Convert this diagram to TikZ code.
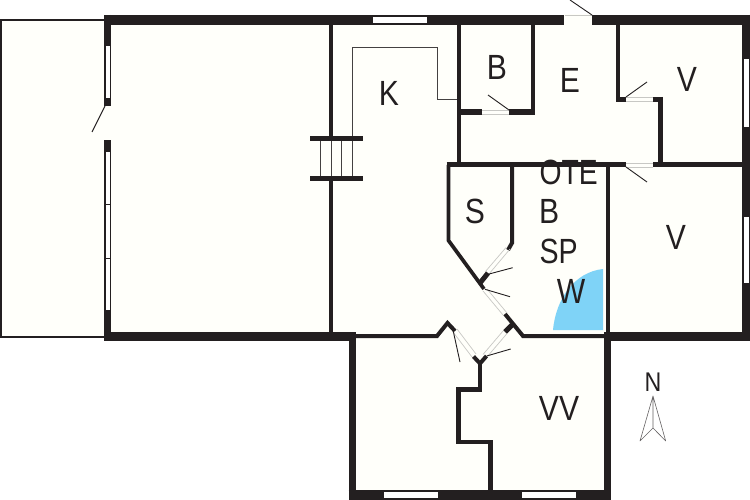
\documentclass[tikz,border=0pt]{standalone}
\usepackage{fontspec}
\setmainfont{Liberation Sans}
\definecolor{wallc}{HTML}{231F20}
\definecolor{floorc}{HTML}{FFFFFA}
\definecolor{wetc}{HTML}{7FD3F7}
\definecolor{doorc}{HTML}{C8C8C4}
\tikzset{
  wall/.style={draw=wallc,line width=#1,line cap=butt,line join=miter},
  wall/.default=4pt,
  swing/.style={draw=wallc,line width=0.9pt},
  jamb/.style={draw=doorc,line width=0.7pt},
  glass/.style={fill=white,draw=none},
  room/.style={inner sep=0pt,text=wallc,font=\fontsize{35}{35}\selectfont,xscale=0.86},
  thinline/.style={draw=wallc!85,line width=0.9pt},
}
\begin{document}
\begin{tikzpicture}[x=1pt,y=-1pt]
\useasboundingbox (0,0) rectangle (750,500);
\fill[white] (0,0) rectangle (750,500);
% floor
\fill[floorc] (1,20) -- (750,20) -- (750,336) -- (607,336) -- (607,495) -- (352,495) -- (352,336) -- (1,336) -- cycle;
% terrace outline
\draw[wallc,line width=2pt] (104,20) -- (1,20) -- (1,336.5) -- (104,336.5);
% wet zone
\fill[wetc] (553,330) .. controls (556,298) and (575,272) .. (603,269) -- (603,330) -- cycle;
% outer walls
\path[wall=10pt] (104,20) -- (750,20);
\path[wall=7pt] (107.5,15) -- (107.5,106);
\path[wall=7pt] (107.5,140) -- (107.5,341);
\path[wall=9pt] (104,336.5) -- (356,336.5);
\path[wall=8pt] (746,15) -- (746,341);
\path[wall=9pt] (604,336.5) -- (750,336.5);
\path[wall=7pt] (352,332) -- (352,500);
\path[wall=7pt] (607.5,332) -- (607.5,500);
\path[wall=10pt] (348.5,495) -- (611,495);
% openings in the outer walls
\fill[floorc] (564,14.5) rectangle (592,25.5);
\draw[jamb] (565,15) -- (592,15);
\fill[floorc] (104,106) rectangle (111.5,140);
% windows
\fill[glass] (105.5,46) rectangle (110,98);
\fill[glass] (105.5,152) rectangle (110,203.5);
\fill[glass] (105.5,204.5) rectangle (110,257.5);
\fill[glass] (105.5,258.5) rectangle (110,310);
\fill[glass] (373,17) rectangle (427,23);
\fill[glass] (743.5,59) rectangle (749,127);
\fill[glass] (743.5,217) rectangle (749,283);
\fill[glass] (384,492) rectangle (438,498);
\fill[glass] (522,492) rectangle (576,498);
% stairs
\path[wall=4.5pt] (331,25) -- (331,136);
\path[wall=4.5pt] (331,178) -- (331,332);
\draw[thinline] (320,138) -- (320,178);
\draw[thinline] (331,138) -- (331,178);
\draw[thinline] (341.5,138) -- (341.5,178);
\draw[thinline] (352,178) -- (352,47.5) -- (437,47.5) -- (437,99) -- (457,99);
\path[wall=5pt] (310,138.5) -- (363,138.5);
\path[wall=5pt] (310,178.5) -- (363,178.5);
% inner walls
\path[wall=4.5pt] (459,25) -- (459,165);
\path[wall=4.5pt] (533,25) -- (533,115);
\path[wall=5.5pt] (459,112) -- (482,112);
\path[wall=5.5pt] (509,112) -- (535,112);
\path[wall=4.5pt] (618,25) -- (618,102);
\path[wall=5pt] (616,99.5) -- (626,99.5);
\path[wall=5pt] (653,99.5) -- (663,99.5);
\path[wall=4.5pt] (660.5,97) -- (660.5,165);
\path[wall=5pt] (446.5,165) -- (626,165);
\path[wall=5pt] (653,165) -- (743,165);
\path[wall=4pt] (607.5,167) -- (607.5,332);
\path[wall=4pt] (512,165) -- (512,243) -- (508,250);
\path[wall=3.7pt] (448.5,165) -- (448.5,240.5) -- (484,289);
\path[wall=5pt] (488,273) -- (480,283);
\path[wall=4pt] (505,314) -- (523,336) -- (604,336);
\path[wall=5pt] (512,325) -- (505,332);
\path[wall=4pt] (356,336) -- (437,336) -- (447.5,323) -- (455,331);
\path[wall=4pt] (473.5,356.5) -- (480,363.5) -- (486.5,356);
\path[wall=4.5pt] (480,361) -- (480,389.5) -- (458.5,389.5) -- (458.5,442) -- (490.5,442) -- (490.5,491);
% door leaves and jambs
\draw[jamb] (482,110) -- (509,110) (482,114.5) -- (509,114.5);
\draw[jamb] (626,97.5) -- (653,97.5) (626,101.5) -- (653,101.5);
\draw[jamb] (626,163) -- (653,163) (626,167) -- (653,167);
\draw[jamb] (510,249) -- (489,274) (506,247.5) -- (485,272);
\draw[jamb] (487,289) -- (507,313) (483,291) -- (503,315);
\draw[jamb] (507,333.5) -- (487,357) (503,331) -- (483,354.5);
\draw[jamb] (457,329) -- (476,354) (453,332) -- (472,357);
\draw[swing] (105,106) -- (92,132);
\draw[swing] (592,15) -- (570,0);
\draw[swing] (509,110) -- (488,95);
\draw[swing] (626,97) -- (647,82);
\draw[swing] (626,167) -- (647,182);
\draw[swing] (488,274.3) -- (512.7,267.7);
\draw[swing] (485,289.3) -- (510,296.7);
\draw[swing] (486.7,356) -- (510.7,349);
\draw[swing] (453,330) -- (460,362);
% labels
\node[room] (labK) at (389,93) {K};
\node[room] (labB) at (497,67) {B};
\node[room] (labE) at (570,80) {E};
\node[room] (labV) at (687,79) {V};
\node[room,xscale=0.94,anchor=west] (labOTE) at (539.5,172) {OTE};
\node[room,anchor=west] (labBB) at (539,211) {B};
\node[room,xscale=0.95,anchor=west] (labSP) at (539.5,251) {SP};
\node[room] (labW) at (571,291) {W};
\node[room] (labS) at (475,211) {S};
\node[room] (labVb) at (676,237) {V};
\node[room] (labVV) at (559,408) {VV};
\node[room,font=\fontsize{27}{27}\selectfont] (labN) at (653,382) {N};
% north arrow
\draw[draw=wallc!70,line width=0.6pt,line join=round] (653,396) -- (640,441) -- (653,428) -- (665.7,441) -- cycle (653,396) -- (653,428);
\end{tikzpicture}
\end{document}
